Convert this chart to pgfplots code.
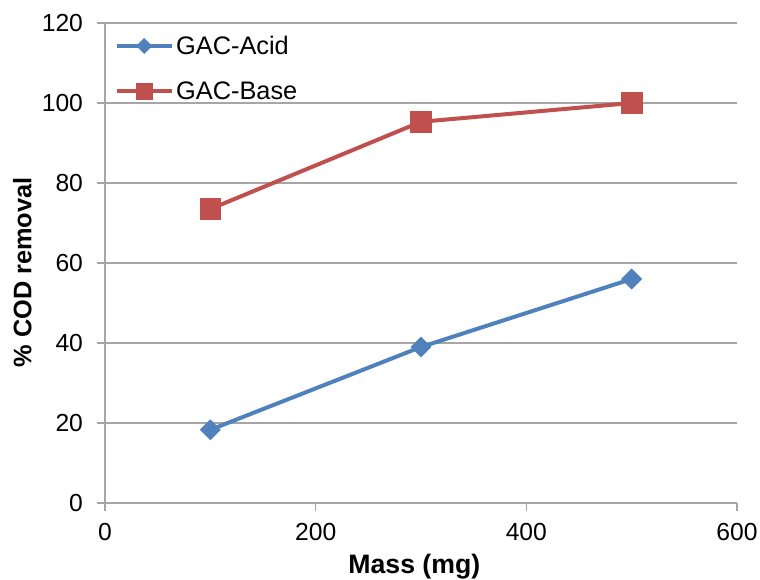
\documentclass[border=0pt]{standalone}
\usepackage{pgfplots}
\pgfplotsset{compat=1.18}
\usepackage{fontspec}
\setmainfont{Liberation Sans}
\definecolor{acid}{HTML}{4F81BD}
\definecolor{base}{HTML}{C0504D}
\definecolor{gridc}{HTML}{A6A6A6}
\begin{document}
\begin{tikzpicture}
\useasboundingbox (-78.75pt,-57pt) rectangle (491.25pt,377.25pt);
\begin{axis}[
  at={(0,0)}, anchor=south west,
  scale only axis, width=474pt, height=360pt,
  xmin=0, xmax=600, ymin=0, ymax=120,
  xtick={0,200,400,600}, ytick={0,20,40,60,80,100,120},
  axis lines=left, axis line style={draw=gridc, line width=0.9pt, -},
  tick style={draw=gridc, line width=0.9pt},
  tick align=outside, major tick length=6pt,
  ymajorgrids, grid style={draw=gridc, line width=0.9pt},
  font=\fontsize{18.5}{20}\selectfont,
  /pgf/number format/assume math mode=true,
  /pgf/number format/1000 sep={},
  xticklabel style={yshift=-6pt},
  yticklabel style={xshift=-7pt},
  xlabel={\textbf{Mass (mg)}}, ylabel={\textbf{\% COD removal}},
  xlabel style={at={(0.5,0)}, anchor=center, yshift=-48pt, xshift=-5pt, font=\fontsize{20}{22}\selectfont},
  ylabel style={at={(0,0.5)}, anchor=center, yshift=62pt, xshift=-7pt, font=\fontsize{19}{21}\selectfont},
  legend style={at={(0.011,0.985)}, anchor=north west, draw=none, fill=none,
    row sep=15pt, font=\fontsize{19}{21}\selectfont, inner sep=2pt},
  legend cell align=left,
  legend image code/.code={\draw[mark repeat=2,mark phase=2,#1,every mark/.append style={scale=0.75}] plot coordinates {(0pt,0pt) (20.5pt,0pt) (41pt,0pt)};},
]
\addplot[color=acid, line width=3pt, mark=square*, mark size=5.3pt, mark options={rotate=45, line width=0.5pt, fill=acid}]
  coordinates {(100,18.3) (300,39.0) (500,56.0)};
\addlegendentry{GAC-Acid}
\addplot[color=base, line width=3pt, mark=square*, mark size=7.8pt, mark options={line width=0.5pt, fill=base}]
  coordinates {(100,73.5) (300,95.3) (500,100.0)};
\addlegendentry{GAC-Base}
\end{axis}
\end{tikzpicture}
\end{document}
